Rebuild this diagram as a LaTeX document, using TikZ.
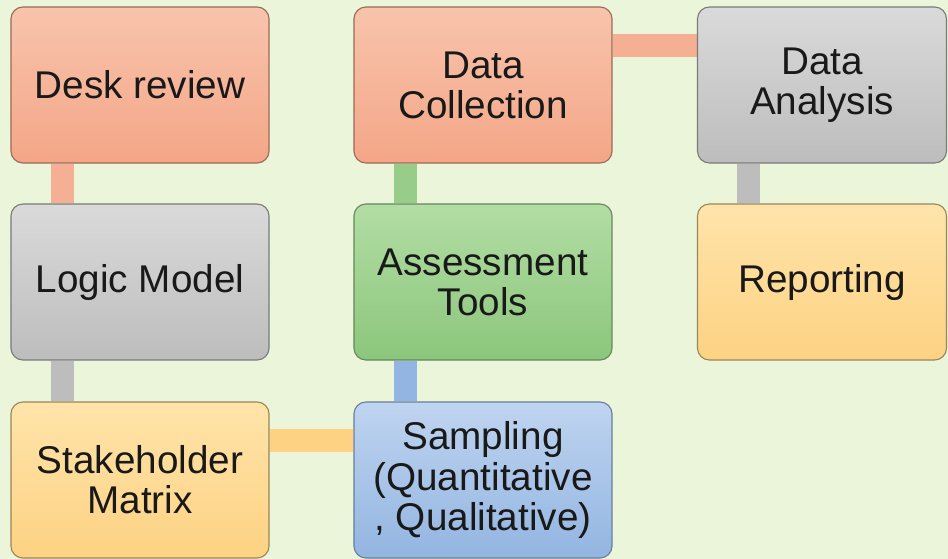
\documentclass[tikz,border=0pt]{standalone}
\usepackage{fontspec}
\setmainfont{Liberation Sans}
\usetikzlibrary{backgrounds}

\definecolor{bgcol}{HTML}{EAF5DA}
\definecolor{salmonT}{HTML}{F8C4AC}
\definecolor{salmonB}{HTML}{F4A687}
\definecolor{salmonD}{HTML}{9A6A58}
\definecolor{greyT}{HTML}{DADADA}
\definecolor{greyB}{HTML}{BDBDBD}
\definecolor{greyD}{HTML}{7A7A7A}
\definecolor{amberT}{HTML}{FFE4AA}
\definecolor{amberB}{HTML}{FDD283}
\definecolor{amberD}{HTML}{9A8658}
\definecolor{greenT}{HTML}{B2DDA4}
\definecolor{greenB}{HTML}{8CC67C}
\definecolor{greenD}{HTML}{66885C}
\definecolor{blueT}{HTML}{BFD4F0}
\definecolor{blueB}{HTML}{93B5E1}
\definecolor{blueD}{HTML}{687E9A}

\begin{document}
\begin{tikzpicture}[x=0.025cm,y=-0.025cm,
    box/.style={rounded corners=0.3cm,line width=0.8pt,minimum width=6.45cm,minimum height=3.9cm,
        align=center,text=black!90,font=\fontsize{27.5}{28.5}\selectfont},
    salmonbox/.style={box,top color=salmonT,bottom color=salmonB,draw=salmonD},
    greybox/.style={box,top color=greyT,bottom color=greyB,draw=greyD},
    amberbox/.style={box,top color=amberT,bottom color=amberB,draw=amberD},
    greenbox/.style={box,top color=greenT,bottom color=greenB,draw=greenD},
    bluebox/.style={box,top color=blueT,bottom color=blueB,draw=blueD},
    link/.style={line width=0.575cm,draw=#1}]
        \useasboundingbox (0,0) rectangle (948,559);
        % first column
        \node[salmonbox] (desk) at (140,85){Desk review};
        \node[greybox] (logic) at (140,282){Logic Model};
        \node[amberbox] (stake) at (140,480){Stakeholder\\Matrix};
        % second column
        \node[salmonbox] (dcoll) at (483,85){Data\\Collection};
        \node[greenbox] (tools) at (483,282){Assessment\\Tools};
        \node[bluebox] (sampl) at (483,480){Sampling\\(Quantitative\\, Qualitative)};
        % third column
        \node[greybox,minimum width=6.225cm] (danal) at (822,85){Data\\Analysis};
        \node[amberbox,minimum width=6.225cm] (report) at (822,282){Reporting};
        \begin{pgfonlayer}{background}
            \fill[bgcol](0,0)rectangle(948,559);
            \draw[link=salmonB!90] ([xshift=1.3cm]desk.south west)--([xshift=1.3cm]logic.north west);
            \draw[link=greyB] ([xshift=1.3cm]logic.south west)--([xshift=1.3cm]stake.north west);
            \draw[link=amberB] ([yshift=-0.975cm]stake.north east)--([yshift=-0.975cm]sampl.north west);
            \draw[link=blueB] ([xshift=1.3cm]sampl.north west)--([xshift=1.3cm]tools.south west);
            \draw[link=greenB!90] ([xshift=1.3cm]tools.north west)--([xshift=1.3cm]dcoll.south west);
            \draw[link=salmonB!90] ([yshift=-0.975cm]dcoll.north east)--([yshift=-0.975cm]danal.north west);
            \draw[link=greyB] ([xshift=1.3cm]danal.south west)--([xshift=1.3cm]report.north west);
        \end{pgfonlayer}
    \end{tikzpicture}
\end{document}
